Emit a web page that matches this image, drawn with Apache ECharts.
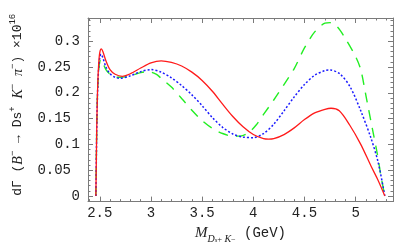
<!DOCTYPE html>
<html>
<head>
<meta charset="utf-8">
<script src="https://cdn.jsdelivr.net/npm/echarts@6/dist/echarts.min.js"></script>
<style>html,body{margin:0;padding:0;background:#fff}#c{width:402px;height:249px}</style>
</head>
<body>
<div id="c"></div>
<script>
// x ticks / labels
var xMajor = [2.5, 3, 3.5, 4, 4.5, 5];
var xMinor = [2.4, 2.6, 2.7, 2.8, 2.9, 3.1, 3.2, 3.3, 3.4, 3.6, 3.7, 3.8, 3.9, 4.1, 4.2, 4.3, 4.4, 4.6, 4.7, 4.8, 4.9, 5.1, 5.2, 5.3];
var yMajor = [0, 0.05, 0.1, 0.15, 0.2, 0.25, 0.3];
var yMinor = [-0.01, 0.01, 0.02, 0.03, 0.04, 0.06, 0.07, 0.08, 0.09, 0.11, 0.12, 0.13, 0.14, 0.16, 0.17, 0.18, 0.19, 0.21, 0.22, 0.23, 0.24, 0.26, 0.27, 0.28, 0.29, 0.31, 0.32, 0.33, 0.34];

var redSolid = [[2.462,0],[2.467,0.08],[2.472,0.15],[2.48,0.215],[2.49,0.258],[2.50,0.278],[2.515,0.285],[2.53,0.28],[2.56,0.262],[2.6,0.245],[2.65,0.236],[2.72,0.232],[2.8,0.237],[2.9,0.248],[3.0,0.258],[3.1,0.262],[3.2,0.259],[3.3,0.252],[3.4,0.240],[3.5,0.224],[3.6,0.203],[3.7,0.178],[3.8,0.154],[3.9,0.134],[4.0,0.119],[4.1,0.111],[4.15,0.110],[4.2,0.111],[4.3,0.119],[4.4,0.132],[4.5,0.148],[4.6,0.161],[4.7,0.168],[4.76,0.170],[4.84,0.165],[4.94,0.138],[5.05,0.100],[5.15,0.058],[5.22,0.030],[5.285,0]];
var blueDotted = [[2.462,0],[2.467,0.08],[2.472,0.15],[2.48,0.21],[2.49,0.25],[2.50,0.268],[2.512,0.275],[2.53,0.268],[2.56,0.250],[2.6,0.237],[2.65,0.230],[2.70,0.228],[2.8,0.233],[2.9,0.241],[3.0,0.245],[3.1,0.240],[3.2,0.229],[3.3,0.214],[3.4,0.196],[3.5,0.175],[3.6,0.152],[3.7,0.133],[3.8,0.120],[3.9,0.114],[4.0,0.113],[4.1,0.121],[4.2,0.139],[4.3,0.165],[4.4,0.192],[4.5,0.216],[4.6,0.234],[4.7,0.243],[4.75,0.244],[4.85,0.236],[4.95,0.21],[5.05,0.165],[5.15,0.112],[5.22,0.065],[5.285,0]];
var greenDashed = [[2.462,0],[2.467,0.08],[2.472,0.15],[2.48,0.21],[2.49,0.245],[2.50,0.260],[2.51,0.265],[2.53,0.258],[2.56,0.245],[2.6,0.236],[2.65,0.231],[2.7,0.230],[2.8,0.233],[2.9,0.239],[2.97,0.241],[3.05,0.236],[3.1,0.228],[3.2,0.211],[3.3,0.189],[3.4,0.166],[3.5,0.146],[3.6,0.131],[3.7,0.121],[3.8,0.116],[3.87,0.116],[3.95,0.122],[4.03,0.138],[4.1,0.158],[4.2,0.186],[4.3,0.216],[4.4,0.247],[4.5,0.287],[4.6,0.318],[4.7,0.335],[4.75,0.336],[4.82,0.328],[4.9,0.305],[5.0,0.27],[5.05,0.245],[5.1,0.195],[5.16,0.134],[5.21,0.083],[5.25,0.036],[5.285,0]];

var XMIN = 2.385, XMAX = 5.365, YMIN = -0.011, YMAX = 0.345;
var frameColor = '#7a7a7a';
var mono = 'Liberation Mono';

function xAx(pos, ticks, len, showLabel, showLine) {
  return {
    type: 'value', min: XMIN, max: XMAX, position: pos,
    axisLine: {show: showLine, onZero: false, lineStyle: {color: frameColor, width: 1}},
    axisTick: {show: true, inside: true, length: len, customValues: ticks, lineStyle: {color: frameColor}},
    axisLabel: showLabel ? {show: true, customValues: xMajor, color: '#222', fontFamily: mono, fontSize: 14, margin: 5,
      formatter: function (v) { return String(+v.toFixed(1)); }} : {show: false},
    splitLine: {show: false}
  };
}
function yAx(pos, ticks, len, showLabel, showLine) {
  return {
    type: 'value', min: YMIN, max: YMAX, position: pos,
    axisLine: {show: showLine, onZero: false, lineStyle: {color: frameColor, width: 1}},
    axisTick: {show: true, inside: true, length: len, customValues: ticks, lineStyle: {color: frameColor}},
    axisLabel: showLabel ? {show: true, customValues: yMajor, color: '#222', fontFamily: mono, fontSize: 14, margin: 8,
      formatter: function (v) {
        var s = String(+v.toFixed(2));
        return (s.length > 3) ? '{p|' + s + '}' : s;
      },
      rich: {p: {fontFamily: mono, fontSize: 14, color: '#222', padding: [0, 9, 0, 0]}}} : {show: false},
    splitLine: {show: false}
  };
}

var xAxes = [xAx('bottom', xMajor, 5, true, true), xAx('bottom', xMinor, 2.5, false, false),
             xAx('top', xMajor, 5, false, true), xAx('top', xMinor, 2.5, false, false)];
var yAxes = [yAx('left', yMajor, 5, true, true), yAx('left', yMinor, 2.5, false, false),
             yAx('right', yMajor, 5, false, true), yAx('right', yMinor, 2.5, false, false)];

xAxes[0].name = '{i|M}{sub|D}{ss|s}{sp|+}{sub| }{subi|K}{sp|−}{m| (GeV)}';
xAxes[0].nameLocation = 'middle';
xAxes[0].nameGap = 16;
xAxes[0].nameTextStyle = {
  color: '#222',
  rich: {
    i: {fontFamily: 'Liberation Serif', fontStyle: 'italic', fontSize: 15, lineHeight: 22, verticalAlign: 'middle', color: '#222'},
    m: {fontFamily: mono, fontSize: 14, lineHeight: 22, verticalAlign: 'middle', color: '#222'},
    sub: {fontFamily: 'Liberation Serif', fontStyle: 'italic', fontSize: 10, lineHeight: 12, verticalAlign: 'bottom', color: '#222'},
    subi: {fontFamily: 'Liberation Serif', fontStyle: 'italic', fontSize: 10, lineHeight: 12, verticalAlign: 'bottom', color: '#222'},
    ss: {fontFamily: 'Liberation Serif', fontStyle: 'italic', fontSize: 7, lineHeight: 5, verticalAlign: 'bottom', color: '#222'},
    sp: {fontFamily: 'Liberation Serif', fontSize: 8, lineHeight: 20, verticalAlign: 'bottom', color: '#222'}
  }
};

yAxes[0].name = '{m|dΓ (}{i|B}{s|−}{m| → Ds}{s|+}{m| }{i|K}{s|−}{m| }{i|π}{s|−}{m|) ×10}{s|16}';
yAxes[0].nameLocation = 'middle';
yAxes[0].nameRotate = 90;
yAxes[0].nameGap = 60;
yAxes[0].nameTextStyle = {
  color: '#222',
  padding: [0, 0, 0, 10],
  rich: {
    m: {fontFamily: mono, fontSize: 13, lineHeight: 20, verticalAlign: 'middle', color: '#222'},
    i: {fontFamily: 'Liberation Serif', fontStyle: 'italic', fontSize: 14, lineHeight: 20, verticalAlign: 'middle', color: '#222'},
    s: {fontFamily: mono, fontSize: 9, lineHeight: 10, verticalAlign: 'top', color: '#222'}
  }
};

var chart = echarts.init(document.getElementById('c'), null, {renderer: 'canvas'});
chart.setOption({
  animation: false,
  backgroundColor: '#fff',
  grid: {left: 84, right: 9, top: 18, bottom: 41, containLabel: false},
  xAxis: xAxes,
  yAxis: yAxes,
  series: [
    {type: 'line', data: greenDashed, xAxisIndex: 0, yAxisIndex: 0, showSymbol: false, smooth: 0.3,
     lineStyle: {color: '#22ee22', width: 1.4, type: [10, 8]}},
    {type: 'line', data: blueDotted, xAxisIndex: 0, yAxisIndex: 0, showSymbol: false, smooth: 0.3,
     lineStyle: {color: '#1a1aff', width: 1.5, type: [2, 2]}},
    {type: 'line', data: redSolid, xAxisIndex: 0, yAxisIndex: 0, showSymbol: false, smooth: 0.3,
     lineStyle: {color: '#ff1a1a', width: 1.3}}
  ]
});
</script>
</body>
</html>
